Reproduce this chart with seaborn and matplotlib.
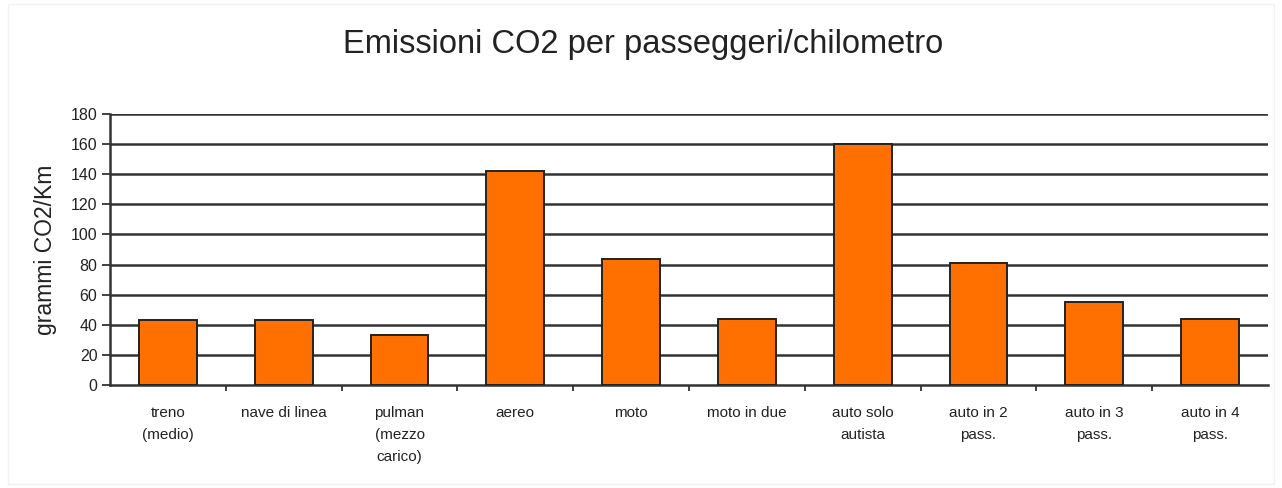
import matplotlib
matplotlib.use("Agg")
import matplotlib.pyplot as plt
import seaborn as sns
import pandas as pd
import numpy as np

categories = [
    "treno\n(medio)", "nave di linea", "pulman\n(mezzo\ncarico)", "aereo", "moto",
    "moto in due", "auto solo\nautista", "auto in 2\npass.", "auto in 3\npass.", "auto in 4\npass.",
]
emissions = [43, 43, 33, 142, 84, 44, 160, 81, 55, 44]
y_ticks = [0, 20, 40, 60, 80, 100, 120, 140, 160, 180]

df = pd.DataFrame({"mezzo": categories, "co2": emissions})

sns.set_theme(style="white")
plt.rcParams["font.family"] = ["Liberation Sans", "DejaVu Sans"]

fig = plt.figure(figsize=(12.82, 4.88), dpi=100)
fig.patch.set_facecolor("white")
ax = fig.add_axes([110 / 1282, 1 - 385 / 488, (1268 - 110) / 1282, (385 - 114) / 488])

sns.barplot(data=df, x="mezzo", y="co2", color="#FF7000", saturation=1,
            width=0.5, edgecolor="#222222", linewidth=1.4, ax=ax, zorder=3)

ax.set_xlim(-0.5, len(categories) - 0.5)
ax.set_ylim(0, 180)
ax.set_yticks(y_ticks)
ax.set_yticklabels([str(v) for v in y_ticks], fontsize=11.5, color="#222222")
for v in y_ticks[1:]:
    ax.axhline(v, color="#333333", linewidth=1.8, zorder=1)

ax.set_xticks(range(len(categories)))
ax.set_xticklabels(categories, fontsize=11, color="#222222", linespacing=1.75)
ax.set_xticks(np.arange(0.5, len(categories) - 0.5, 1), minor=True)
ax.tick_params(axis="x", which="major", length=0, pad=15)
ax.tick_params(axis="x", which="minor", length=4, width=1.3, color="#333333", direction="out", bottom=True)
ax.tick_params(axis="y", length=6, width=1.3, color="#333333", direction="out", left=True, pad=3)

for side in ["top", "right"]:
    ax.spines[side].set_visible(False)
for side in ["left", "bottom"]:
    ax.spines[side].set_color("#333333")
    ax.spines[side].set_linewidth(1.8)

ax.set_xlabel("")
ax.set_ylabel("grammi CO2/Km", fontsize=16.5, color="#222222", labelpad=10)
fig.text(643 / 1282, 1 - 45 / 488, "Emissioni CO2 per passeggeri/chilometro",
         ha="center", va="center", fontsize=23.5, color="#222222")

fig.add_artist(plt.Rectangle((8 / 1282, 4 / 488), 1266 / 1282, 480 / 488,
                             transform=fig.transFigure, fill=False,
                             edgecolor="#F2F2F2", linewidth=1))

fig.savefig("out.png", dpi=100)
